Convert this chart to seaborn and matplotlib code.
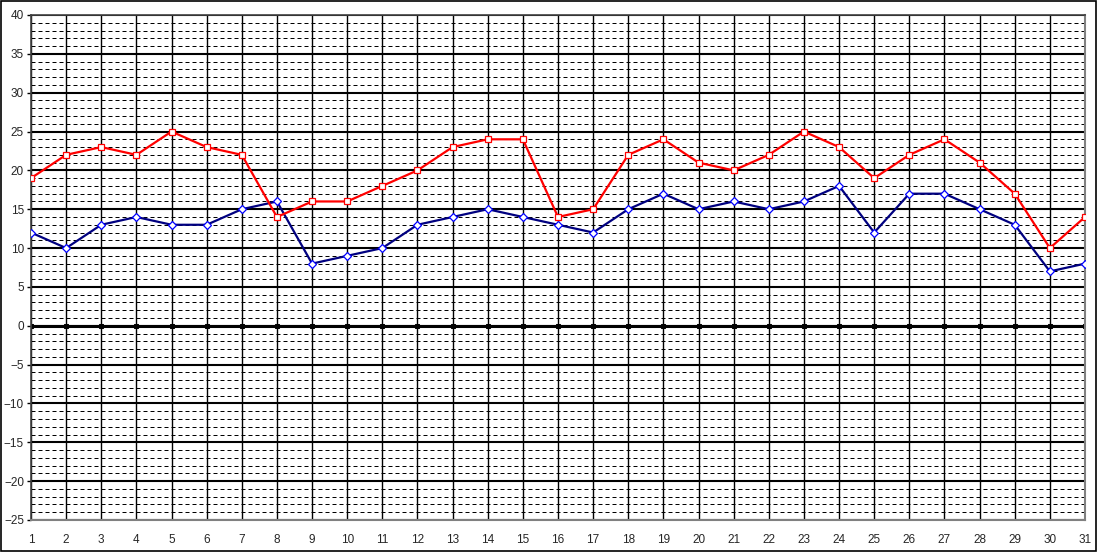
import numpy as np
import pandas as pd
import matplotlib
matplotlib.use("Agg")
import matplotlib.pyplot as plt
from matplotlib.ticker import MultipleLocator
import seaborn as sns

days = list(range(1, 32))
t_max = [19, 22, 23, 22, 25, 23, 22, 14, 16, 16, 18, 20, 23, 24, 24, 14,
         15, 22, 24, 21, 20, 22, 25, 23, 19, 22, 24, 21, 17, 10, 14]
t_min = [12, 10, 13, 14, 13, 13, 15, 16, 8, 9, 10, 13, 14, 15, 14, 13,
         12, 15, 17, 15, 16, 15, 16, 18, 12, 17, 17, 15, 13, 7, 8]
zero_line = [0] * len(days)

df = pd.DataFrame({"day": days, "max": t_max, "min": t_min, "zero": zero_line})

sns.set_style("white")
plt.rcParams["font.family"] = ["Liberation Sans", "DejaVu Sans"]

fig = plt.figure(figsize=(10.98, 5.52), dpi=100)
ax = fig.add_axes([31 / 1098, 1 - 520 / 552, (1085 - 31) / 1098, (520 - 15) / 552])

# grid
ax.yaxis.set_major_locator(MultipleLocator(5))
ax.yaxis.set_minor_locator(MultipleLocator(1))
ax.xaxis.set_major_locator(MultipleLocator(1))
ax.grid(which="major", axis="y", color="black", lw=1.5, ls="-")
ax.grid(which="minor", axis="y", color="black", lw=0.72, ls=(0, (4, 3)))
ax.grid(which="major", axis="x", color="black", lw=1.0, ls="-")
ax.set_axisbelow(True)

# zero line with small markers
sns.lineplot(data=df, x="day", y="zero", ax=ax, color="black", lw=2.2,
             marker="s", markersize=3.2, markeredgecolor="black", zorder=2)

sns.lineplot(data=df, x="day", y="min", ax=ax, color="#000080", lw=1.6,
             marker="D", markersize=4, markerfacecolor="white",
             markeredgecolor="#0000ff", markeredgewidth=0.9, zorder=3)
sns.lineplot(data=df, x="day", y="max", ax=ax, color="#ff0000", lw=1.6,
             marker="s", markersize=4.5, markerfacecolor="white",
             markeredgecolor="#ff0000", markeredgewidth=0.9, zorder=4)

ax.set_xlim(1, 31)
ax.set_ylim(-25, 40)
ax.set_xticks(days)
ax.set_xlabel("")
ax.set_ylabel("")
ax.tick_params(axis="x", length=0, pad=10, labelsize=8.5)
ax.tick_params(axis="y", which="major", length=3, width=1, color="black",
               left=True, pad=2, labelsize=8.5)
ax.tick_params(axis="y", which="minor", length=0)

for side in ["left", "top"]:
    ax.spines[side].set_color("#404040")
    ax.spines[side].set_linewidth(1.2)
for side in ["right", "bottom"]:
    ax.spines[side].set_color("#808080")
    ax.spines[side].set_linewidth(1.5)

# outer border
fig.patches.append(plt.Rectangle((0.0005, 0.001), 0.998, 0.997, transform=fig.transFigure,
                                 fill=False, edgecolor="black", lw=1.2))

fig.savefig("out.png", dpi=100)
